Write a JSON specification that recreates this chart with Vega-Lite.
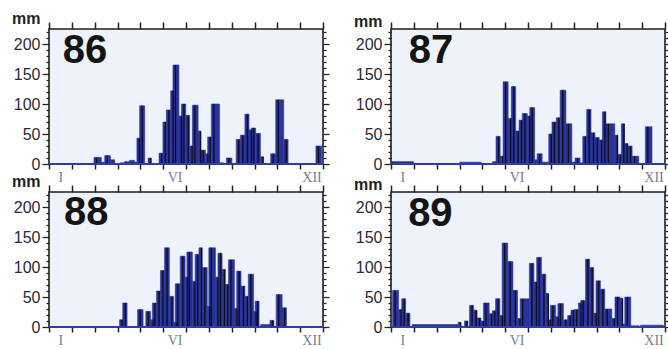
{
  "$schema": "https://vega.github.io/schema/vega-lite/v6.json",
  "autosize": {"type": "none"},
  "padding": {"left": 49, "top": 29, "right": 619, "bottom": 320},
  "background": "white",
  "config": {
    "view": {"fill": "#eef2fa", "stroke": "#1c1f1c", "strokeWidth": 1.6},
    "text": {"font": "Liberation Sans"}
  },
  "datasets": {
    "rain": [
      {"yr": "86", "s": 1.97, "e": 2.29, "v": 11}, {"yr": "86", "s": 2.29, "e": 2.44, "v": 3}, {"yr": "86", "s": 2.44, "e": 2.69, "v": 14}, {"yr": "86", "s": 2.69, "e": 2.88, "v": 7},
      {"yr": "86", "s": 3.12, "e": 3.31, "v": 2}, {"yr": "86", "s": 3.31, "e": 3.53, "v": 4}, {"yr": "86", "s": 3.53, "e": 3.75, "v": 6}, {"yr": "86", "s": 3.75, "e": 3.85, "v": 3},
      {"yr": "86", "s": 3.85, "e": 3.97, "v": 43}, {"yr": "86", "s": 3.97, "e": 4.19, "v": 97}, {"yr": "86", "s": 4.34, "e": 4.48, "v": 10}, {"yr": "86", "s": 4.82, "e": 4.99, "v": 18},
      {"yr": "86", "s": 4.99, "e": 5.14, "v": 70}, {"yr": "86", "s": 5.14, "e": 5.33, "v": 90}, {"yr": "86", "s": 5.33, "e": 5.43, "v": 122}, {"yr": "86", "s": 5.43, "e": 5.69, "v": 165},
      {"yr": "86", "s": 5.69, "e": 5.80, "v": 80}, {"yr": "86", "s": 5.80, "e": 5.99, "v": 100}, {"yr": "86", "s": 5.99, "e": 6.16, "v": 81}, {"yr": "86", "s": 6.16, "e": 6.28, "v": 30},
      {"yr": "86", "s": 6.28, "e": 6.53, "v": 98}, {"yr": "86", "s": 6.53, "e": 6.64, "v": 55}, {"yr": "86", "s": 6.64, "e": 6.85, "v": 23}, {"yr": "86", "s": 6.85, "e": 6.95, "v": 17},
      {"yr": "86", "s": 6.95, "e": 7.11, "v": 45}, {"yr": "86", "s": 7.11, "e": 7.47, "v": 100}, {"yr": "86", "s": 7.47, "e": 7.65, "v": 2}, {"yr": "86", "s": 7.77, "e": 8.01, "v": 10},
      {"yr": "86", "s": 8.20, "e": 8.38, "v": 41}, {"yr": "86", "s": 8.38, "e": 8.58, "v": 48}, {"yr": "86", "s": 8.58, "e": 8.76, "v": 83}, {"yr": "86", "s": 8.76, "e": 8.86, "v": 57},
      {"yr": "86", "s": 8.86, "e": 9.05, "v": 60}, {"yr": "86", "s": 9.05, "e": 9.26, "v": 51}, {"yr": "86", "s": 9.26, "e": 9.40, "v": 12}, {"yr": "86", "s": 9.71, "e": 9.93, "v": 17},
      {"yr": "86", "s": 9.93, "e": 10.28, "v": 107}, {"yr": "86", "s": 10.28, "e": 10.47, "v": 41}, {"yr": "86", "s": 11.69, "e": 11.94, "v": 30},

      {"yr": "87", "s": 0.04, "e": 0.98, "v": 4}, {"yr": "87", "s": 3.01, "e": 3.95, "v": 3}, {"yr": "87", "s": 4.45, "e": 4.60, "v": 4}, {"yr": "87", "s": 4.60, "e": 4.78, "v": 46},
      {"yr": "87", "s": 4.78, "e": 4.91, "v": 13}, {"yr": "87", "s": 4.91, "e": 5.13, "v": 137}, {"yr": "87", "s": 5.13, "e": 5.27, "v": 76}, {"yr": "87", "s": 5.27, "e": 5.46, "v": 129},
      {"yr": "87", "s": 5.46, "e": 5.61, "v": 55}, {"yr": "87", "s": 5.61, "e": 5.75, "v": 73}, {"yr": "87", "s": 5.75, "e": 5.97, "v": 84}, {"yr": "87", "s": 5.97, "e": 6.08, "v": 80},
      {"yr": "87", "s": 6.08, "e": 6.29, "v": 94}, {"yr": "87", "s": 6.29, "e": 6.40, "v": 7}, {"yr": "87", "s": 6.40, "e": 6.62, "v": 17}, {"yr": "87", "s": 6.62, "e": 6.91, "v": 3},
      {"yr": "87", "s": 6.91, "e": 7.05, "v": 50}, {"yr": "87", "s": 7.05, "e": 7.24, "v": 70}, {"yr": "87", "s": 7.24, "e": 7.41, "v": 77}, {"yr": "87", "s": 7.41, "e": 7.66, "v": 123},
      {"yr": "87", "s": 7.66, "e": 7.92, "v": 67}, {"yr": "87", "s": 7.92, "e": 8.06, "v": 3}, {"yr": "87", "s": 8.06, "e": 8.28, "v": 10}, {"yr": "87", "s": 8.28, "e": 8.40, "v": 2},
      {"yr": "87", "s": 8.40, "e": 8.57, "v": 46}, {"yr": "87", "s": 8.57, "e": 8.76, "v": 91}, {"yr": "87", "s": 8.76, "e": 8.93, "v": 52}, {"yr": "87", "s": 8.93, "e": 9.12, "v": 44},
      {"yr": "87", "s": 9.12, "e": 9.26, "v": 40}, {"yr": "87", "s": 9.26, "e": 9.41, "v": 87}, {"yr": "87", "s": 9.41, "e": 9.80, "v": 67}, {"yr": "87", "s": 9.80, "e": 9.94, "v": 48},
      {"yr": "87", "s": 9.94, "e": 10.09, "v": 16}, {"yr": "87", "s": 10.09, "e": 10.23, "v": 67}, {"yr": "87", "s": 10.23, "e": 10.38, "v": 34}, {"yr": "87", "s": 10.38, "e": 10.56, "v": 30},
      {"yr": "87", "s": 10.56, "e": 10.85, "v": 13}, {"yr": "87", "s": 11.14, "e": 11.43, "v": 62},

      {"yr": "88", "s": 3.09, "e": 3.23, "v": 12}, {"yr": "88", "s": 3.23, "e": 3.42, "v": 40}, {"yr": "88", "s": 3.88, "e": 4.12, "v": 29}, {"yr": "88", "s": 4.24, "e": 4.45, "v": 26},
      {"yr": "88", "s": 4.45, "e": 4.53, "v": 12}, {"yr": "88", "s": 4.53, "e": 4.71, "v": 40}, {"yr": "88", "s": 4.71, "e": 4.88, "v": 60}, {"yr": "88", "s": 4.88, "e": 5.06, "v": 94},
      {"yr": "88", "s": 5.06, "e": 5.27, "v": 132}, {"yr": "88", "s": 5.27, "e": 5.46, "v": 51}, {"yr": "88", "s": 5.46, "e": 5.53, "v": 8}, {"yr": "88", "s": 5.53, "e": 5.75, "v": 72},
      {"yr": "88", "s": 5.75, "e": 5.96, "v": 118}, {"yr": "88", "s": 5.96, "e": 6.04, "v": 83}, {"yr": "88", "s": 6.04, "e": 6.28, "v": 125}, {"yr": "88", "s": 6.28, "e": 6.40, "v": 76},
      {"yr": "88", "s": 6.40, "e": 6.57, "v": 121}, {"yr": "88", "s": 6.57, "e": 6.71, "v": 132}, {"yr": "88", "s": 6.71, "e": 6.93, "v": 99}, {"yr": "88", "s": 6.93, "e": 7.00, "v": 34},
      {"yr": "88", "s": 7.00, "e": 7.29, "v": 132}, {"yr": "88", "s": 7.29, "e": 7.40, "v": 83}, {"yr": "88", "s": 7.40, "e": 7.58, "v": 123}, {"yr": "88", "s": 7.58, "e": 7.72, "v": 96},
      {"yr": "88", "s": 7.72, "e": 7.86, "v": 71}, {"yr": "88", "s": 7.86, "e": 8.12, "v": 112}, {"yr": "88", "s": 8.12, "e": 8.22, "v": 31}, {"yr": "88", "s": 8.22, "e": 8.41, "v": 93},
      {"yr": "88", "s": 8.41, "e": 8.58, "v": 68}, {"yr": "88", "s": 8.58, "e": 8.73, "v": 51}, {"yr": "88", "s": 8.73, "e": 8.96, "v": 88}, {"yr": "88", "s": 8.96, "e": 9.03, "v": 26},
      {"yr": "88", "s": 9.03, "e": 9.20, "v": 43}, {"yr": "88", "s": 9.27, "e": 9.68, "v": 4}, {"yr": "88", "s": 9.68, "e": 9.85, "v": 11}, {"yr": "88", "s": 9.95, "e": 10.21, "v": 54},
      {"yr": "88", "s": 10.21, "e": 10.40, "v": 32},

      {"yr": "89", "s": 0.07, "e": 0.33, "v": 61}, {"yr": "89", "s": 0.33, "e": 0.47, "v": 29}, {"yr": "89", "s": 0.47, "e": 0.64, "v": 47}, {"yr": "89", "s": 0.64, "e": 0.83, "v": 23},
      {"yr": "89", "s": 0.93, "e": 2.94, "v": 4}, {"yr": "89", "s": 2.94, "e": 3.05, "v": 8}, {"yr": "89", "s": 3.22, "e": 3.37, "v": 10}, {"yr": "89", "s": 3.44, "e": 3.62, "v": 36},
      {"yr": "89", "s": 3.62, "e": 3.77, "v": 28}, {"yr": "89", "s": 3.77, "e": 3.94, "v": 15}, {"yr": "89", "s": 3.94, "e": 4.05, "v": 10}, {"yr": "89", "s": 4.05, "e": 4.30, "v": 40},
      {"yr": "89", "s": 4.30, "e": 4.44, "v": 22}, {"yr": "89", "s": 4.44, "e": 4.58, "v": 27}, {"yr": "89", "s": 4.58, "e": 4.77, "v": 47}, {"yr": "89", "s": 4.77, "e": 4.87, "v": 19},
      {"yr": "89", "s": 4.87, "e": 5.11, "v": 140}, {"yr": "89", "s": 5.11, "e": 5.34, "v": 109}, {"yr": "89", "s": 5.34, "e": 5.54, "v": 61}, {"yr": "89", "s": 5.54, "e": 5.66, "v": 14},
      {"yr": "89", "s": 5.66, "e": 6.06, "v": 47}, {"yr": "89", "s": 6.06, "e": 6.26, "v": 106}, {"yr": "89", "s": 6.26, "e": 6.38, "v": 75}, {"yr": "89", "s": 6.38, "e": 6.59, "v": 116},
      {"yr": "89", "s": 6.59, "e": 6.78, "v": 88}, {"yr": "89", "s": 6.78, "e": 6.88, "v": 56}, {"yr": "89", "s": 6.88, "e": 6.98, "v": 12}, {"yr": "89", "s": 6.98, "e": 7.21, "v": 36},
      {"yr": "89", "s": 7.21, "e": 7.31, "v": 17}, {"yr": "89", "s": 7.31, "e": 7.55, "v": 39}, {"yr": "89", "s": 7.55, "e": 7.74, "v": 12}, {"yr": "89", "s": 7.74, "e": 7.88, "v": 19},
      {"yr": "89", "s": 7.88, "e": 8.02, "v": 28}, {"yr": "89", "s": 8.02, "e": 8.21, "v": 29}, {"yr": "89", "s": 8.21, "e": 8.31, "v": 40}, {"yr": "89", "s": 8.31, "e": 8.52, "v": 44},
      {"yr": "89", "s": 8.52, "e": 8.70, "v": 113}, {"yr": "89", "s": 8.70, "e": 8.88, "v": 99}, {"yr": "89", "s": 8.88, "e": 8.98, "v": 23}, {"yr": "89", "s": 8.98, "e": 9.17, "v": 77},
      {"yr": "89", "s": 9.17, "e": 9.36, "v": 63}, {"yr": "89", "s": 9.36, "e": 9.67, "v": 30}, {"yr": "89", "s": 9.67, "e": 9.81, "v": 14}, {"yr": "89", "s": 9.81, "e": 10.03, "v": 50},
      {"yr": "89", "s": 10.03, "e": 10.13, "v": 48}, {"yr": "89", "s": 10.13, "e": 10.24, "v": 5}, {"yr": "89", "s": 10.24, "e": 10.50, "v": 50}, {"yr": "89", "s": 10.50, "e": 10.86, "v": 2},
      {"yr": "89", "s": 10.93, "e": 11.93, "v": 3}
    ]
  },
  "columns": 2,
  "bounds": "flush",
  "spacing": {"column": 68, "row": 28},
  "concat": [
    {
      "width": 274, "height": 135,
      "layer": [
        {"data": {"name": "rain"}, "transform": [{"filter": "datum.yr == '86'"}],
         "mark": {"type": "rect", "fill": "#29339a", "stroke": "#29339a", "strokeWidth": 0.6},
         "encoding": {
           "x": {"field": "s", "type": "quantitative", "scale": {"domain": [0, 12], "nice": false, "zero": false},
                 "axis": {"orient": "bottom", "values": [0,1,2,3,4,5,6,7,8,9,10,11,12], "tickSize": 5, "tickWidth": 1.5, "tickColor": "#222", "domain": false, "grid": false, "title": null,
                          "labelExpr": "datum.value == 0 ? 'I' : datum.value == 5 ? 'VI' : datum.value == 11 ? 'XII' : ''", "labelOffset": 11.4, "labelFont": "Liberation Serif", "labelFontSize": 14, "labelColor": "#767b9a", "labelPadding": 1, "labelOverlap": false, "labelFlush": false, "labelBound": false}},
           "x2": {"field": "e"},
           "y": {"field": "v", "type": "quantitative", "scale": {"domain": [0, 225], "nice": false},
                 "axis": {"orient": "left", "values": [0,10,20,30,40,50,60,70,80,90,100,110,120,130,140,150,160,170,180,190,200,210,220],
                          "tickSize": {"condition": {"test": "datum.value % 50 === 0", "value": 7}, "value": 3}, "tickWidth": 1.3, "tickColor": "#222",
                          "labelExpr": "datum.value % 50 === 0 ? datum.label : ''", "labelFont": "Liberation Sans", "labelFontSize": 16, "labelColor": "#2a2a36", "labelPadding": 2, "labelOverlap": false, "labelFlush": false, "labelBound": false,
                          "domain": false, "grid": false, "title": "mm", "titleAngle": 0, "titleX": -9, "titleY": -6, "titleAlign": "right", "titleBaseline": "alphabetic", "titleFont": "Liberation Sans", "titleFontSize": 16, "titleFontWeight": "bold", "titleColor": "#222"}},
           "y2": {"datum": 0}
         }},
        {"data": {"name": "rain"}, "transform": [{"filter": "datum.yr == '86' && datum.v >= 8"}],
         "mark": {"type": "rule", "color": "#0d0d1c", "strokeWidth": 1.3, "xOffset": 2.5},
         "encoding": {
           "x": {"field": "s", "type": "quantitative", "scale": {"domain": [0, 12], "nice": false, "zero": false}, "axis": null},
           "y": {"field": "v", "type": "quantitative", "scale": {"domain": [0, 225], "nice": false}, "axis": null},
           "y2": {"datum": 0}
         }},
        {"data": {"values": [{}]},
         "mark": {"type": "rule", "color": "#2f3ca6", "strokeWidth": 2},
         "encoding": {"y": {"datum": 0, "type": "quantitative", "scale": {"domain": [0, 225], "nice": false}, "axis": null}}},
        {"data": {"values": [{"label": "86"}]},
         "mark": {"type": "text", "font": "Liberation Sans", "fontSize": 40, "fontWeight": "bold", "color": "#141414", "align": "left", "baseline": "alphabetic"},
         "encoding": {
           "text": {"field": "label"},
           "x": {"datum": 0.6, "type": "quantitative", "scale": {"domain": [0, 12], "nice": false, "zero": false},
                 "axis": {"orient": "top", "values": [0,1,2,3,4,5,6,7,8,9,10,11,12], "tickSize": 7, "tickWidth": 1.5, "tickColor": "#222", "labels": false, "domain": false, "grid": false, "title": null}},
           "y": {"datum": 168, "type": "quantitative", "scale": {"domain": [0, 225], "nice": false},
                 "axis": {"orient": "right", "values": [0,10,20,30,40,50,60,70,80,90,100,110,120,130,140,150,160,170,180,190,200,210,220],
                          "tickSize": {"condition": {"test": "datum.value % 50 === 0", "value": 6}, "value": 3}, "tickWidth": 1.3, "tickColor": "#222", "labels": false, "domain": false, "grid": false, "title": null}}
         }}
      ],
      "resolve": {"axis": {"x": "independent", "y": "independent"}}
    },
    {
      "width": 274, "height": 135,
      "layer": [
        {"data": {"name": "rain"}, "transform": [{"filter": "datum.yr == '87'"}],
         "mark": {"type": "rect", "fill": "#29339a", "stroke": "#29339a", "strokeWidth": 0.6},
         "encoding": {
           "x": {"field": "s", "type": "quantitative", "scale": {"domain": [0, 12], "nice": false, "zero": false},
                 "axis": {"orient": "bottom", "values": [0,1,2,3,4,5,6,7,8,9,10,11,12], "tickSize": 5, "tickWidth": 1.5, "tickColor": "#222", "domain": false, "grid": false, "title": null,
                          "labelExpr": "datum.value == 0 ? 'I' : datum.value == 5 ? 'VI' : datum.value == 11 ? 'XII' : ''", "labelOffset": 11.4, "labelFont": "Liberation Serif", "labelFontSize": 14, "labelColor": "#767b9a", "labelPadding": 1, "labelOverlap": false, "labelFlush": false, "labelBound": false}},
           "x2": {"field": "e"},
           "y": {"field": "v", "type": "quantitative", "scale": {"domain": [0, 225], "nice": false},
                 "axis": {"orient": "left", "values": [0,10,20,30,40,50,60,70,80,90,100,110,120,130,140,150,160,170,180,190,200,210,220],
                          "tickSize": {"condition": {"test": "datum.value % 50 === 0", "value": 7}, "value": 3}, "tickWidth": 1.3, "tickColor": "#222",
                          "labelExpr": "datum.value % 50 === 0 ? datum.label : ''", "labelFont": "Liberation Sans", "labelFontSize": 16, "labelColor": "#2a2a36", "labelPadding": 2, "labelOverlap": false, "labelFlush": false, "labelBound": false,
                          "domain": false, "grid": false, "title": "mm", "titleAngle": 0, "titleX": -9, "titleY": -3, "titleAlign": "right", "titleBaseline": "alphabetic", "titleFont": "Liberation Sans", "titleFontSize": 16, "titleFontWeight": "bold", "titleColor": "#222"}},
           "y2": {"datum": 0}
         }},
        {"data": {"name": "rain"}, "transform": [{"filter": "datum.yr == '87' && datum.v >= 8"}],
         "mark": {"type": "rule", "color": "#0d0d1c", "strokeWidth": 1.3, "xOffset": 2.5},
         "encoding": {
           "x": {"field": "s", "type": "quantitative", "scale": {"domain": [0, 12], "nice": false, "zero": false}, "axis": null},
           "y": {"field": "v", "type": "quantitative", "scale": {"domain": [0, 225], "nice": false}, "axis": null},
           "y2": {"datum": 0}
         }},
        {"data": {"values": [{}]},
         "mark": {"type": "rule", "color": "#2f3ca6", "strokeWidth": 2},
         "encoding": {"y": {"datum": 0, "type": "quantitative", "scale": {"domain": [0, 225], "nice": false}, "axis": null}}},
        {"data": {"values": [{"label": "87"}]},
         "mark": {"type": "text", "font": "Liberation Sans", "fontSize": 40, "fontWeight": "bold", "color": "#141414", "align": "left", "baseline": "alphabetic"},
         "encoding": {
           "text": {"field": "label"},
           "x": {"datum": 0.78, "type": "quantitative", "scale": {"domain": [0, 12], "nice": false, "zero": false},
                 "axis": {"orient": "top", "values": [0,1,2,3,4,5,6,7,8,9,10,11,12], "tickSize": 7, "tickWidth": 1.5, "tickColor": "#222", "labels": false, "domain": false, "grid": false, "title": null}},
           "y": {"datum": 168, "type": "quantitative", "scale": {"domain": [0, 225], "nice": false},
                 "axis": {"orient": "right", "values": [0,10,20,30,40,50,60,70,80,90,100,110,120,130,140,150,160,170,180,190,200,210,220],
                          "tickSize": {"condition": {"test": "datum.value % 50 === 0", "value": 6}, "value": 3}, "tickWidth": 1.3, "tickColor": "#222", "labels": false, "domain": false, "grid": false, "title": null}}
         }}
      ],
      "resolve": {"axis": {"x": "independent", "y": "independent"}}
    },
    {
      "width": 274, "height": 135,
      "layer": [
        {"data": {"name": "rain"}, "transform": [{"filter": "datum.yr == '88'"}],
         "mark": {"type": "rect", "fill": "#29339a", "stroke": "#29339a", "strokeWidth": 0.6},
         "encoding": {
           "x": {"field": "s", "type": "quantitative", "scale": {"domain": [0, 12], "nice": false, "zero": false},
                 "axis": {"orient": "bottom", "values": [0,1,2,3,4,5,6,7,8,9,10,11,12], "tickSize": 5, "tickWidth": 1.5, "tickColor": "#222", "domain": false, "grid": false, "title": null,
                          "labelExpr": "datum.value == 0 ? 'I' : datum.value == 5 ? 'VI' : datum.value == 11 ? 'XII' : ''", "labelOffset": 11.4, "labelFont": "Liberation Serif", "labelFontSize": 14, "labelColor": "#767b9a", "labelPadding": 1, "labelOverlap": false, "labelFlush": false, "labelBound": false}},
           "x2": {"field": "e"},
           "y": {"field": "v", "type": "quantitative", "scale": {"domain": [0, 225], "nice": false},
                 "axis": {"orient": "left", "values": [0,10,20,30,40,50,60,70,80,90,100,110,120,130,140,150,160,170,180,190,200,210,220],
                          "tickSize": {"condition": {"test": "datum.value % 50 === 0", "value": 7}, "value": 3}, "tickWidth": 1.3, "tickColor": "#222",
                          "labelExpr": "datum.value % 50 === 0 ? datum.label : ''", "labelFont": "Liberation Sans", "labelFontSize": 16, "labelColor": "#2a2a36", "labelPadding": 2, "labelOverlap": false, "labelFlush": false, "labelBound": false,
                          "domain": false, "grid": false, "title": "mm", "titleAngle": 0, "titleX": -9, "titleY": -6, "titleAlign": "right", "titleBaseline": "alphabetic", "titleFont": "Liberation Sans", "titleFontSize": 16, "titleFontWeight": "bold", "titleColor": "#222"}},
           "y2": {"datum": 0}
         }},
        {"data": {"name": "rain"}, "transform": [{"filter": "datum.yr == '88' && datum.v >= 8"}],
         "mark": {"type": "rule", "color": "#0d0d1c", "strokeWidth": 1.3, "xOffset": 2.5},
         "encoding": {
           "x": {"field": "s", "type": "quantitative", "scale": {"domain": [0, 12], "nice": false, "zero": false}, "axis": null},
           "y": {"field": "v", "type": "quantitative", "scale": {"domain": [0, 225], "nice": false}, "axis": null},
           "y2": {"datum": 0}
         }},
        {"data": {"values": [{}]},
         "mark": {"type": "rule", "color": "#2f3ca6", "strokeWidth": 2},
         "encoding": {"y": {"datum": 0, "type": "quantitative", "scale": {"domain": [0, 225], "nice": false}, "axis": null}}},
        {"data": {"values": [{"label": "88"}]},
         "mark": {"type": "text", "font": "Liberation Sans", "fontSize": 40, "fontWeight": "bold", "color": "#141414", "align": "left", "baseline": "alphabetic"},
         "encoding": {
           "text": {"field": "label"},
           "x": {"datum": 0.66, "type": "quantitative", "scale": {"domain": [0, 12], "nice": false, "zero": false},
                 "axis": {"orient": "top", "values": [0,1,2,3,4,5,6,7,8,9,10,11,12], "tickSize": 7, "tickWidth": 1.5, "tickColor": "#222", "labels": false, "domain": false, "grid": false, "title": null}},
           "y": {"datum": 170, "type": "quantitative", "scale": {"domain": [0, 225], "nice": false},
                 "axis": {"orient": "right", "values": [0,10,20,30,40,50,60,70,80,90,100,110,120,130,140,150,160,170,180,190,200,210,220],
                          "tickSize": {"condition": {"test": "datum.value % 50 === 0", "value": 6}, "value": 3}, "tickWidth": 1.3, "tickColor": "#222", "labels": false, "domain": false, "grid": false, "title": null}}
         }}
      ],
      "resolve": {"axis": {"x": "independent", "y": "independent"}}
    },
    {
      "width": 274, "height": 135,
      "layer": [
        {"data": {"name": "rain"}, "transform": [{"filter": "datum.yr == '89'"}],
         "mark": {"type": "rect", "fill": "#29339a", "stroke": "#29339a", "strokeWidth": 0.6},
         "encoding": {
           "x": {"field": "s", "type": "quantitative", "scale": {"domain": [0, 12], "nice": false, "zero": false},
                 "axis": {"orient": "bottom", "values": [0,1,2,3,4,5,6,7,8,9,10,11,12], "tickSize": 5, "tickWidth": 1.5, "tickColor": "#222", "domain": false, "grid": false, "title": null,
                          "labelExpr": "datum.value == 0 ? 'I' : datum.value == 5 ? 'VI' : datum.value == 11 ? 'XII' : ''", "labelOffset": 11.4, "labelFont": "Liberation Serif", "labelFontSize": 14, "labelColor": "#767b9a", "labelPadding": 1, "labelOverlap": false, "labelFlush": false, "labelBound": false}},
           "x2": {"field": "e"},
           "y": {"field": "v", "type": "quantitative", "scale": {"domain": [0, 225], "nice": false},
                 "axis": {"orient": "left", "values": [0,10,20,30,40,50,60,70,80,90,100,110,120,130,140,150,160,170,180,190,200,210,220],
                          "tickSize": {"condition": {"test": "datum.value % 50 === 0", "value": 7}, "value": 3}, "tickWidth": 1.3, "tickColor": "#222",
                          "labelExpr": "datum.value % 50 === 0 ? datum.label : ''", "labelFont": "Liberation Sans", "labelFontSize": 16, "labelColor": "#2a2a36", "labelPadding": 2, "labelOverlap": false, "labelFlush": false, "labelBound": false,
                          "domain": false, "grid": false, "title": "mm", "titleAngle": 0, "titleX": -9, "titleY": -3, "titleAlign": "right", "titleBaseline": "alphabetic", "titleFont": "Liberation Sans", "titleFontSize": 16, "titleFontWeight": "bold", "titleColor": "#222"}},
           "y2": {"datum": 0}
         }},
        {"data": {"name": "rain"}, "transform": [{"filter": "datum.yr == '89' && datum.v >= 8"}],
         "mark": {"type": "rule", "color": "#0d0d1c", "strokeWidth": 1.3, "xOffset": 2.5},
         "encoding": {
           "x": {"field": "s", "type": "quantitative", "scale": {"domain": [0, 12], "nice": false, "zero": false}, "axis": null},
           "y": {"field": "v", "type": "quantitative", "scale": {"domain": [0, 225], "nice": false}, "axis": null},
           "y2": {"datum": 0}
         }},
        {"data": {"values": [{}]},
         "mark": {"type": "rule", "color": "#2f3ca6", "strokeWidth": 2},
         "encoding": {"y": {"datum": 0, "type": "quantitative", "scale": {"domain": [0, 225], "nice": false}, "axis": null}}},
        {"data": {"values": [{"label": "89"}]},
         "mark": {"type": "text", "font": "Liberation Sans", "fontSize": 40, "fontWeight": "bold", "color": "#141414", "align": "left", "baseline": "alphabetic"},
         "encoding": {
           "text": {"field": "label"},
           "x": {"datum": 0.75, "type": "quantitative", "scale": {"domain": [0, 12], "nice": false, "zero": false},
                 "axis": {"orient": "top", "values": [0,1,2,3,4,5,6,7,8,9,10,11,12], "tickSize": 7, "tickWidth": 1.5, "tickColor": "#222", "labels": false, "domain": false, "grid": false, "title": null}},
           "y": {"datum": 169, "type": "quantitative", "scale": {"domain": [0, 225], "nice": false},
                 "axis": {"orient": "right", "values": [0,10,20,30,40,50,60,70,80,90,100,110,120,130,140,150,160,170,180,190,200,210,220],
                          "tickSize": {"condition": {"test": "datum.value % 50 === 0", "value": 6}, "value": 3}, "tickWidth": 1.3, "tickColor": "#222", "labels": false, "domain": false, "grid": false, "title": null}}
         }}
      ],
      "resolve": {"axis": {"x": "independent", "y": "independent"}}
    }
  ]
}
